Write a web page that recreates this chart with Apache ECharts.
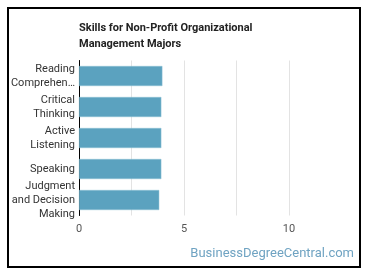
<!DOCTYPE html>
<html>
<head>
<meta charset="utf-8">
<script src="https://cdn.jsdelivr.net/npm/echarts@6/dist/echarts.min.js"></script>
<style>
  html, body { margin: 0; padding: 0; background: #fff; }
  #chart { width: 370px; height: 278px; }
</style>
</head>
<body>
<div id="chart"></div>
<script>
// skills, top to bottom
const skills = ['Reading\nComprehension', 'Critical\nThinking', 'Active\nListening', 'Speaking', 'Judgment\nand Decision\nMaking']
const scores = [3.97, 3.92, 3.92, 3.92, 3.82]

const chart = echarts.init(document.getElementById('chart'), null, { renderer: 'canvas' })

chart.setOption({
  backgroundColor: '#fff',
  animation: false,
  title: {
    text: 'Skills for Non-Profit Organizational\nManagement Majors',
    left: 74,
    top: 15,
    textStyle: {
      fontFamily: 'Roboto',
      fontSize: 11,
      fontWeight: 'bold',
      color: '#222',
      lineHeight: 16
    }
  },
  grid: { left: 79, right: 28.5, top: 60.5, bottom: 62.5 },
  xAxis: {
    type: 'value',
    min: 0,
    max: 12.5,
    interval: 2.5,
    axisLine: { show: false },
    axisTick: { show: false },
    axisLabel: {
      margin: 8,
      fontFamily: 'Roboto',
      fontSize: 11,
      color: '#555',
      formatter: v => (v % 5 === 0 && v < 12.5) ? String(v) : ''
    },
    splitLine: { show: true, showMinLine: false, showMaxLine: false, lineStyle: { color: '#e3e3e3', width: 1 } }
  },
  yAxis: {
    type: 'category',
    inverse: true,
    data: skills,
    axisLine: { show: true, lineStyle: { color: '#000', width: 1 } },
    axisTick: { show: false },
    axisLabel: {
      margin: 4,
      fontFamily: 'Roboto',
      fontSize: 11,
      color: '#333',
      lineHeight: 14,
      width: 67,
      overflow: 'truncate',
      ellipsis: '…'
    }
  },
  series: [{
    type: 'bar',
    data: scores,
    barWidth: 20,
    itemStyle: { color: '#5ba2bf', borderColor: '#8cc0d5', borderWidth: 0.5 }
  }],
  graphic: [
    {
      type: 'rect',
      shape: { x: 8, y: 8, width: 352, height: 259 },
      style: { fill: null, stroke: '#000', lineWidth: 2 },
      silent: true
    },
    {
      type: 'text',
      right: 16,
      top: 247,
      style: {
        text: 'BusinessDegreeCentral.com',
        fontFamily: 'Roboto',
        fontSize: 13,
        fill: '#6fa3c2'
      }
    }
  ]
})
</script>
</body>
</html>
